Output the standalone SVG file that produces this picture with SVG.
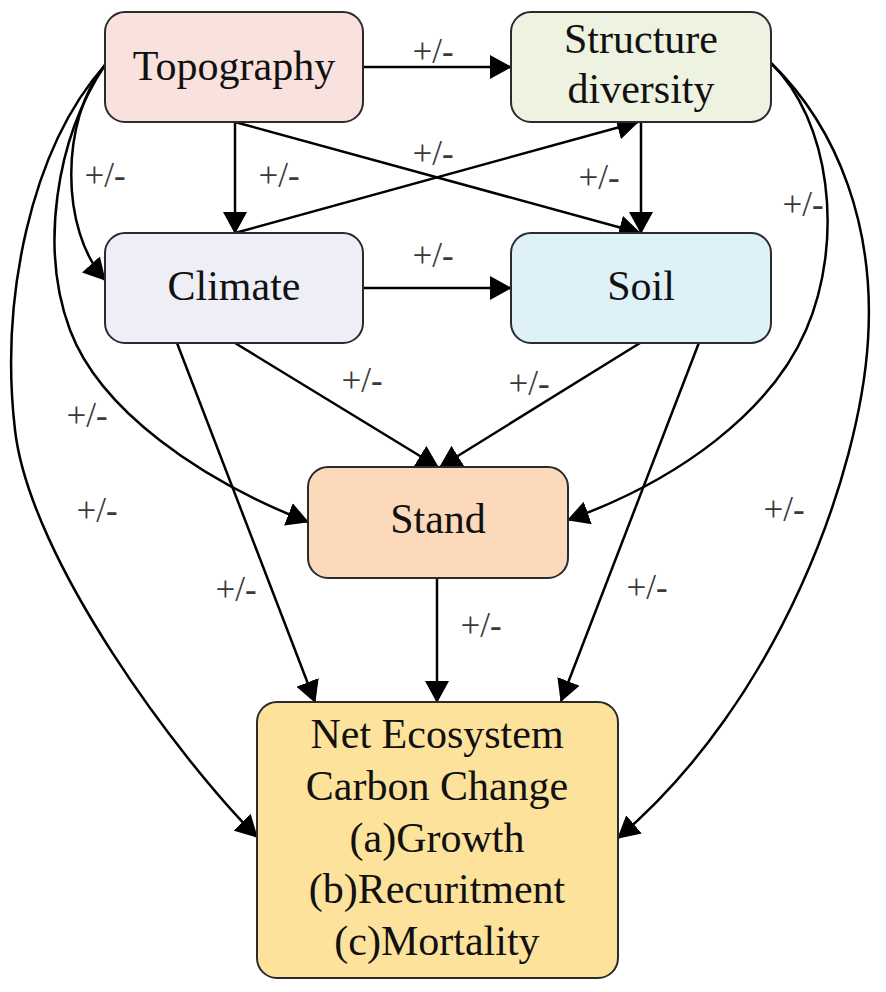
<svg xmlns="http://www.w3.org/2000/svg" width="886" height="992" viewBox="0 0 886 992">
<defs>
<marker id="ah" markerUnits="userSpaceOnUse" markerWidth="22" markerHeight="24" viewBox="0 0 22 24" refX="21" refY="12" orient="auto">
<path d="M0,0 L22,12 L0,24 z" fill="#000"/>
</marker>
<style>
.box{stroke:#2b2b2b;stroke-width:2}
.t{font-family:"Liberation Serif","Times New Roman",serif;font-size:42px;fill:#111;text-anchor:middle}
.c{fill:none;stroke:#000;stroke-width:2.5;marker-end:url(#ah)}
.l{font-family:"Liberation Serif","Times New Roman",serif;font-size:35px;fill:#3a3a3a;text-anchor:middle}
</style>
</defs>
<rect width="886" height="992" fill="#fff"/>
<g id="connectors">
<path class="c" d="M363,67 L511,67"/>
<path class="c" d="M235,122 L235,233"/>
<path class="c" d="M235,122 L640,233"/>
<path class="c" d="M235,233 L638,122"/>
<path class="c" d="M641,122 L641,233"/>
<path class="c" d="M363,288 L511,288"/>
<path class="c" d="M105,65 C60,120 60,230 105,280"/>
<path class="c" d="M105,65 C55,140 40,250 70,330 S200,480 308,522"/>
<path class="c" d="M105,65 C30,150 0,300 15,430 C30,560 180,760 257,837"/>
<path class="c" d="M771,63 C830,120 845,240 806,330 C771,411 680,480 568,520"/>
<path class="c" d="M771,63 C840,130 875,230 868,340 C860,472 780,700 618,838"/>
<path class="c" d="M235,343 L438,467"/>
<path class="c" d="M640,343 L440,467"/>
<path class="c" d="M177,343 L315,702"/>
<path class="c" d="M700,340 L561,701"/>
<path class="c" d="M437,578 L437,702"/>
</g>
<g id="labels">
<text class="l" x="433" y="63">+/-</text>
<text class="l" x="105" y="187">+/-</text>
<text class="l" x="279" y="187">+/-</text>
<text class="l" x="433" y="165">+/-</text>
<text class="l" x="599" y="189">+/-</text>
<text class="l" x="803" y="216">+/-</text>
<text class="l" x="433" y="267">+/-</text>
<text class="l" x="362" y="392">+/-</text>
<text class="l" x="87" y="427">+/-</text>
<text class="l" x="97" y="522">+/-</text>
<text class="l" x="236" y="601">+/-</text>
<text class="l" x="529" y="395">+/-</text>
<text class="l" x="784" y="521">+/-</text>
<text class="l" x="647" y="599">+/-</text>
<text class="l" x="481" y="637">+/-</text>
</g>
<g id="topography">
<rect class="box" x="105" y="12" width="258" height="110" rx="20" fill="#f9e1dd"/>
<text class="t" x="234" y="80">Topography</text>
</g>
<g id="structure-diversity">
<rect class="box" x="511" y="12" width="260" height="110" rx="20" fill="#eef2e1"/>
<text class="t" x="641" y="53">Structure</text>
<text class="t" x="641" y="103">diversity</text>
</g>
<g id="climate">
<rect class="box" x="105" y="233" width="258" height="110" rx="20" fill="#eeeef7"/>
<text class="t" x="234" y="300">Climate</text>
</g>
<g id="soil">
<rect class="box" x="511" y="233" width="260" height="110" rx="20" fill="#def0f8"/>
<text class="t" x="641" y="300">Soil</text>
</g>
<g id="stand">
<rect class="box" x="308" y="467" width="260" height="111" rx="20" fill="#fdd9bb"/>
<text class="t" x="438" y="533">Stand</text>
</g>
<g id="necc">
<rect class="box" x="257" y="702" width="361" height="276" rx="20" fill="#fde29b"/>
<text class="t" x="437" y="748">Net Ecosystem</text>
<text class="t" x="437" y="800">Carbon Change</text>
<text class="t" x="437" y="852">(a)Growth</text>
<text class="t" x="437" y="903">(b)Recuritment</text>
<text class="t" x="437" y="955">(c)Mortality</text>
</g>
</svg>
